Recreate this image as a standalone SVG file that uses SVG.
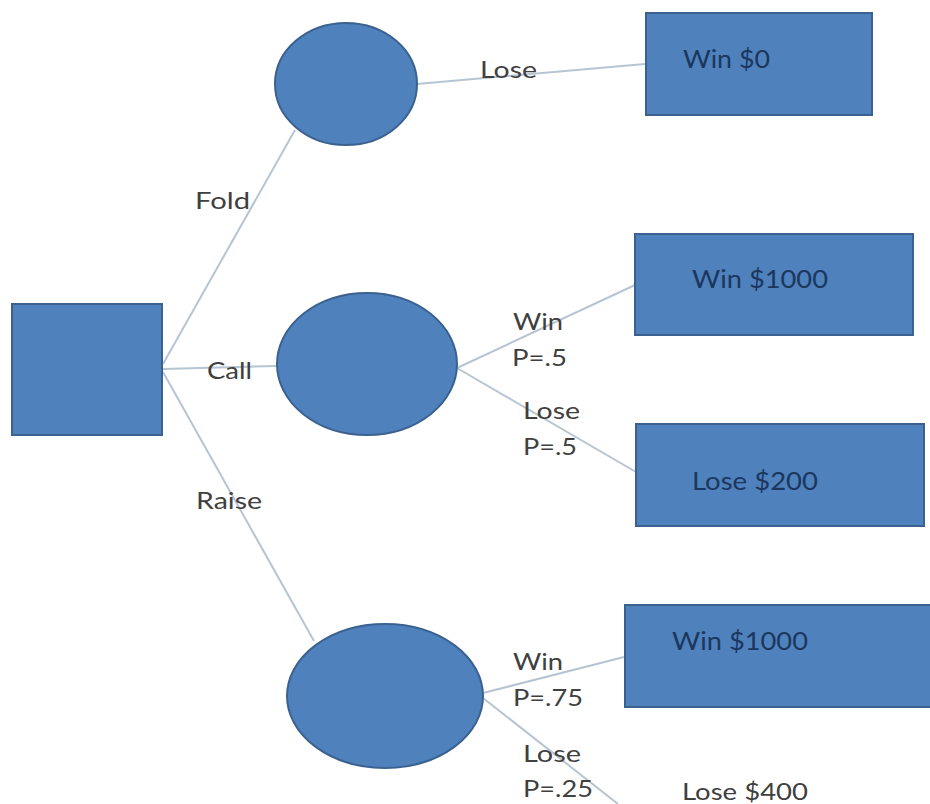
<svg xmlns="http://www.w3.org/2000/svg" width="930" height="804" viewBox="0 0 930 804">
<style>
.n{fill:#4f81bd;stroke:#3a6190;stroke-width:2}
.e{stroke:#b7c4d2;stroke-width:2;fill:none}
.lbl{font-family:Lato,"Open Sans","Liberation Sans",sans-serif;font-size:24px;fill:#404040}
.bt{font-family:Lato,"Open Sans","Liberation Sans",sans-serif;font-size:25px;fill:#1c375e}
</style>
<rect width="930" height="804" fill="#ffffff"/>
<g id="connectors">
<line class="e" x1="163" y1="364" x2="295" y2="130"/>
<line class="e" x1="163" y1="369" x2="277" y2="366"/>
<line class="e" x1="163" y1="372" x2="314" y2="641"/>
<line class="e" x1="417" y1="84" x2="645" y2="64"/>
<line class="e" x1="457" y1="368" x2="635" y2="285"/>
<line class="e" x1="457" y1="368" x2="636" y2="472"/>
<line class="e" x1="483" y1="693" x2="624" y2="657"/>
<line class="e" x1="483" y1="698" x2="618" y2="804"/>
</g>
<g id="root"><rect class="n" x="12" y="304" width="150" height="131"/></g>
<g id="chance-fold"><ellipse class="n" cx="346" cy="84" rx="71" ry="61"/></g>
<g id="chance-call"><ellipse class="n" cx="367" cy="364" rx="90" ry="71"/></g>
<g id="chance-raise"><ellipse class="n" cx="385" cy="696" rx="98" ry="72"/></g>
<g id="out-win0"><rect class="n" x="646" y="13" width="226" height="102"/><text class="bt" x="683" y="68" textLength="87" lengthAdjust="spacingAndGlyphs">Win $0</text></g>
<g id="out-win1000a"><rect class="n" x="635" y="234" width="278" height="101"/><text class="bt" x="692" y="288" textLength="136" lengthAdjust="spacingAndGlyphs">Win $1000</text></g>
<g id="out-lose200"><rect class="n" x="636" y="424" width="288" height="102"/><text class="bt" x="692" y="490" textLength="126" lengthAdjust="spacingAndGlyphs">Lose $200</text></g>
<g id="out-win1000b"><rect class="n" x="625" y="605" width="310" height="102"/><text class="bt" x="672" y="650" textLength="136" lengthAdjust="spacingAndGlyphs">Win $1000</text></g>
<g id="out-lose400"><text class="lbl" x="682" y="800" textLength="126" lengthAdjust="spacingAndGlyphs">Lose $400</text></g>
<g id="labels">
<text class="lbl" x="195" y="209" textLength="55" lengthAdjust="spacingAndGlyphs">Fold</text>
<text class="lbl" x="207" y="379" textLength="45" lengthAdjust="spacingAndGlyphs">Call</text>
<text class="lbl" x="196" y="509" textLength="66" lengthAdjust="spacingAndGlyphs">Raise</text>
<text class="lbl" x="480" y="78" textLength="57" lengthAdjust="spacingAndGlyphs">Lose</text>
<text class="lbl" x="513" y="330" textLength="50" lengthAdjust="spacingAndGlyphs">Win</text>
<text class="lbl" x="512" y="366" textLength="55" lengthAdjust="spacingAndGlyphs">P=.5</text>
<text class="lbl" x="523" y="419" textLength="57" lengthAdjust="spacingAndGlyphs">Lose</text>
<text class="lbl" x="523" y="455" textLength="54" lengthAdjust="spacingAndGlyphs">P=.5</text>
<text class="lbl" x="513" y="670" textLength="50" lengthAdjust="spacingAndGlyphs">Win</text>
<text class="lbl" x="513" y="706" textLength="70" lengthAdjust="spacingAndGlyphs">P=.75</text>
<text class="lbl" x="523" y="762" textLength="58" lengthAdjust="spacingAndGlyphs">Lose</text>
<text class="lbl" x="523" y="797" textLength="70" lengthAdjust="spacingAndGlyphs">P=.25</text>
</g>
</svg>
